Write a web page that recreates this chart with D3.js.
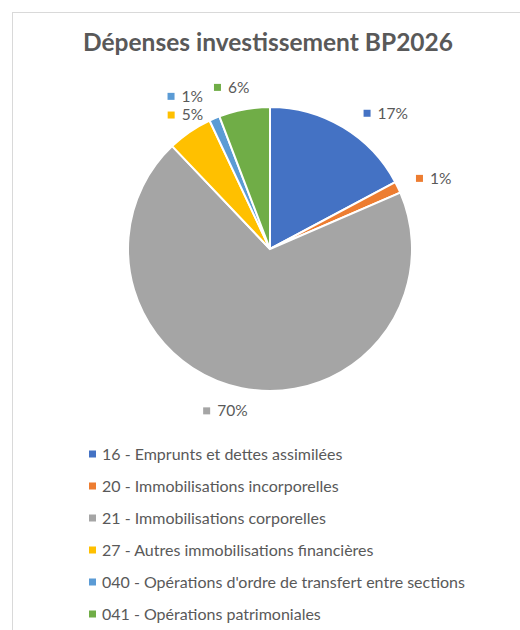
<!DOCTYPE html>
<html lang="fr">
<head>
    <meta charset="UTF-8">
    <title>Dépenses investissement BP2026</title>
    <script src="https://d3js.org/d3.v7.min.js"></script>
    <style>
        body { margin: 0; background: #fff; }
        text { font-family: Lato, "Open Sans", sans-serif; fill: #595959; }
    </style>
</head>
<body>
    <svg width="520" height="630"></svg>
    <script>
        // Data
        const categories = [
            "16 - Emprunts et dettes assimilées",
            "20 - Immobilisations incorporelles",
            "21 - Immobilisations corporelles",
            "27 - Autres immobilisations financières",
            "040 - Opérations d'ordre de transfert entre sections",
            "041 - Opérations patrimoniales"
        ];
        const shares = [17.2, 1.3, 69.4, 5.1, 1.2, 5.8];
        const shareLabels = ["17%", "1%", "70%", "5%", "1%", "6%"];
        const colors = ["#4472C4", "#ED7D31", "#A5A5A5", "#FFC000", "#5B9BD5", "#70AD47"];

        const svg = d3.select("svg");
        const W = 520, H = 630;

        // chart frame (right and bottom edges are cut off in the original)
        svg.append("rect")
            .attr("x", 12.5).attr("y", 12.5)
            .attr("width", W).attr("height", H)
            .attr("fill", "#fff")
            .attr("stroke", "#d9d9d9");

        svg.append("text")
            .attr("x", 268).attr("y", 51)
            .attr("text-anchor", "middle")
            .attr("font-size", "24.5px")
            .attr("font-weight", "bold")
            .text("Dépenses investissement BP2026");

        const cx = 270, cy = 249, r = 142;
        const g = svg.append("g").attr("transform", `translate(${cx},${cy})`);

        const pie = d3.pie().sort(null).value(d => d);
        const arcs = pie(shares);
        const arc = d3.arc().innerRadius(0).outerRadius(r);

        g.selectAll("path.slice")
            .data(arcs)
            .join("path")
            .attr("class", "slice")
            .attr("d", arc)
            .attr("fill", (d, i) => colors[i])
            .attr("stroke", "#fff")
            .attr("stroke-width", 2);

        // data labels outside the pie; small shifts mimic Excel's collision handling
        const labelTurn = [9.5, 2.4, 3.9, 2.1, -6, -2.9];  // degrees
        const labelPush = [2, 0, 0, -13, 4, 0];            // px
        const mark = 7;
        arcs.forEach((d, i) => {
            const lg = g.append("g");
            lg.append("rect")
                .attr("width", mark).attr("height", mark)
                .attr("fill", colors[i]);
            const t = lg.append("text")
                .attr("x", mark + 7)
                .attr("y", mark / 2)
                .attr("dy", "0.35em")
                .attr("font-size", "15.5px")
                .text(shareLabels[i]);
            const w = mark + 7 + t.node().getComputedTextLength();
            const a = (d.startAngle + d.endAngle) / 2 + labelTurn[i] * Math.PI / 180;
            const dist = r + 20 + (w / 2) * Math.abs(Math.sin(a)) + labelPush[i];
            const mx = dist * Math.sin(a);
            const my = -dist * Math.cos(a);
            lg.attr("transform", `translate(${mx - w / 2},${my - mark / 2})`);
        });

        // legend
        const legend = svg.append("g").attr("transform", "translate(89,454)");
        const item = legend.selectAll("g")
            .data(categories)
            .join("g")
            .attr("transform", (d, i) => `translate(0,${i * 32})`);
        item.append("rect")
            .attr("y", -3.5)
            .attr("width", mark).attr("height", mark)
            .attr("fill", (d, i) => colors[i]);
        item.append("text")
            .attr("x", 13)
            .attr("dy", "0.35em")
            .attr("font-size", "16px")
            .text(d => d);
    </script>
</body>
</html>
